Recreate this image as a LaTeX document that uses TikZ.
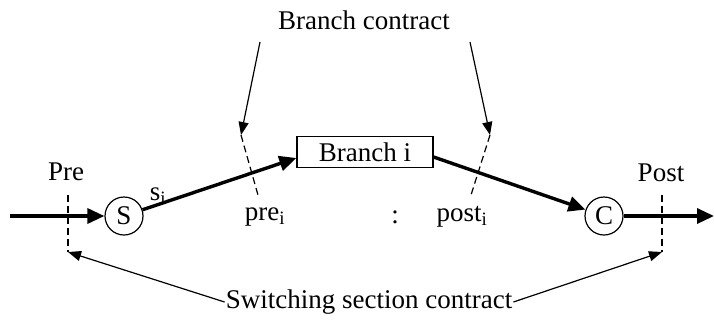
\documentclass[tikz,border=0pt]{standalone}
\usepackage{fontspec}
\setmainfont{Liberation Serif}
\usetikzlibrary{arrows.meta, positioning}

\begin{document}
\begin{tikzpicture}[x=1pt, y=-1pt,
    every node/.style={font=\fontsize{27}{30}\selectfont},
    flow/.style={line width=3.4pt, -{Triangle[length=17pt, width=15pt]}},
    pointer/.style={line width=1.2pt, -{Triangle[length=13pt, width=10pt]}},
    cut/.style={line width=1.2pt, dash pattern=on 7pt off 4pt},
    junction/.style={circle, draw, line width=1.2pt, minimum size=38pt, inner sep=0pt},
    branchbox/.style={rectangle, draw, line width=1.2pt, minimum width=136pt, minimum height=31pt, inner sep=0pt}]

  \useasboundingbox (0,0) rectangle (714,327);

  %% Switch, branch and combiner
  \node[junction] (S) at (124,216) {S};
  \node[branchbox] (branch) at (365,152) {Branch i};
  \node[junction] (C) at (604,216) {C};
  \coordinate (in) at (10,216);
  \coordinate (out) at (714,216);

  %% Main flow
  \draw[flow] (in) -- (S);
  \draw[flow] (S) -- ([yshift=-6pt]branch.west);
  \draw[flow] ([yshift=-5pt]branch.east) -- (C);
  \draw[flow] (C) -- (out);

  %% Section boundaries
  \coordinate (preTop) at (68,195);
  \coordinate (preBot) at (68,252);
  \coordinate (postTop) at (662,195);
  \coordinate (postBot) at (662,252);
  \draw[cut] (preTop) -- (preBot);
  \draw[cut] (postTop) -- (postBot);
  \node (preLab) at (66,172) {Pre};
  \node (postLab) at (661,173) {Post};

  %% Branch boundaries
  \coordinate (bcLeftTop) at (241,135);
  \coordinate (bcLeftBot) at (258,195);
  \coordinate (bcRightTop) at (490,135);
  \coordinate (bcRightBot) at (471,195);
  \draw[cut] (bcLeftTop) -- (bcLeftBot);
  \draw[cut] (bcRightTop) -- (bcRightBot);

  %% Labels on the flow
  \node (siLab) at (158,196) {s\textsubscript{i}};
  \node (preiLab) at (265,217) {pre\textsubscript{i}};
  \node (colon) at (395,217) {:};
  \node (postiLab) at (462,217) {post\textsubscript{i}};

  %% Branch contract
  \node (bcLab) at (364,20) {Branch contract};
  \coordinate (bcLeftFrom) at (260,42);
  \coordinate (bcRightFrom) at (470,42);
  \draw[pointer] (bcLeftFrom) -- (bcLeftTop);
  \draw[pointer] (bcRightFrom) -- (bcRightTop);

  %% Switching section contract
  \node[inner sep=1pt] (sscLab) at (369,302) {Switching section contract};
  \draw[pointer] (sscLab.west) -- (preBot);
  \draw[pointer] (sscLab.east) -- (postBot);

\end{tikzpicture}
\end{document}
